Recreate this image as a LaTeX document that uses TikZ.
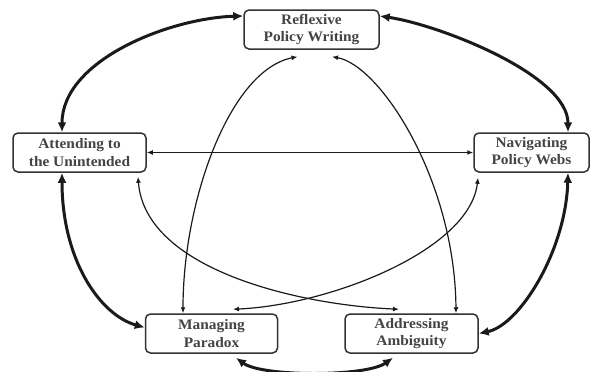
\documentclass[tikz,border=0pt]{standalone}
\usepackage{fontspec}
\setmainfont{Liberation Serif}[FakeStretch=1.06]
\usetikzlibrary{arrows.meta}
\definecolor{txtgray}{HTML}{444444}
\definecolor{linecol}{HTML}{1A1A1A}
\definecolor{boxcol}{HTML}{333333}
\tikzset{
  box/.style={draw=boxcol, line width=1.5pt, rounded corners=5pt, fill=white,
    inner sep=0pt, align=center, text=txtgray,
    font=\fontsize{14.5}{17.5}\selectfont\bfseries},
  thickarr/.style={draw=linecol, line width=3pt, >={Latex[length=10pt,width=9pt]}, <->},
  thinarr/.style={draw=linecol, line width=1.2pt, >={Latex[length=6pt,width=5pt]}, <->}
}
\begin{document}
\begin{tikzpicture}[x=1pt,y=-1pt]
\useasboundingbox (0,0) rectangle (598,372);
\node[box, minimum width=135pt, minimum height=39pt] (R) at (311.5,29.5) {Reflexive\\Policy Writing};
\node[box, minimum width=133pt, minimum height=39pt] (A) at (79.5,152.5) {Attending to\\the Unintended};
\node[box, minimum width=115pt, minimum height=39pt] (N) at (531.5,152.5) {Navigating\\Policy Webs};
\node[box, minimum width=132pt, minimum height=39pt] (M) at (211.5,333.5) {Managing\\Paradox};
\node[box, minimum width=133pt, minimum height=39pt] (D) at (411.5,333.5) {Addressing\\Ambiguity};

% thick outer arcs
\draw[thickarr] ([yshift=13.5pt]R.west) .. controls (170,18) and (62,60) .. ([xshift=-17.5pt]A.north);
\draw[thickarr] ([yshift=13.5pt]R.east) .. controls (440,25) and (568,75) .. ([xshift=36.5pt]N.north);
\draw[thickarr] ([xshift=-17.5pt]A.south) .. controls (62,260) and (100,315) .. ([yshift=6pt]M.west);
\draw[thickarr] ([xshift=36.5pt]N.south) .. controls (566,250) and (520,325) .. (D.east);
\draw[thickarr] ([xshift=24.5pt,yshift=-4pt]M.south) .. controls (262,377) and (366,377) .. ([xshift=-18.5pt,yshift=-4pt]D.south);

% thin inner connectors
\draw[thinarr] (A.east) -- (N.west);
\draw[thinarr] ([xshift=-28.5pt]M.north) .. controls (183,200) and (230,70) .. ([xshift=-14pt,yshift=-7pt]R.south);
\draw[thinarr] ([xshift=20.5pt,yshift=-7pt]R.south) .. controls (380,65) and (455,180) .. ([xshift=44.5pt]D.north);
\draw[thinarr] ([xshift=58.5pt,yshift=-4pt]A.south) .. controls (145,270) and (300,305) .. ([xshift=-12.5pt,yshift=4pt]D.north);
\draw[thinarr] ([xshift=-53.5pt,yshift=-5pt]N.south) .. controls (470,250) and (330,305) .. ([xshift=21.5pt,yshift=4pt]M.north);
\end{tikzpicture}
\end{document}
